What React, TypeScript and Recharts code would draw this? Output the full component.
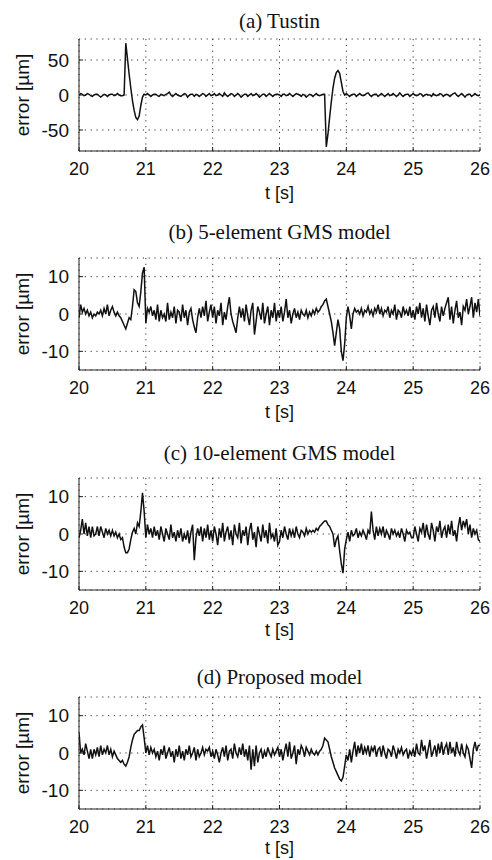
import { CartesianGrid, Label, Line, LineChart, XAxis, YAxis } from "recharts";

// sampling grid of the recorded error signals
const T_START = 20;
const T_STEP = 0.025;
const X_TICKS = [20, 21, 22, 23, 24, 25, 26];

// (a) Tustin, error in µm, one value per 25 ms from 20 s to 26 s
const tustinErr = [
  0, 2, 1, -1, 0, 2, 1, -1, -2, 0, 1, 1, -1, -3, -1, 1, 0, -2, 0, 1,
  1, -1, 0, 2, 0, -1, -1, 0, 74, 52, 30, 10, -8, -22, -32, -35, -30, -15, -3, 1,
  0, 2, 0, -2, 0, 1, 1, -1, -2, 1, 0, -1, 1, 2, 4, 0, -2, 0, 2, 0,
  -1, -2, 0, 2, 1, -3, 0, 1, 1, -2, 1, 0, -2, 0, 2, 1, -2, 0, 2, -1,
  0, 2, -1, 0, 2, 0, -2, 3, 0, -2, 0, 2, 1, -2, 0, 2, 0, -3, -1, 1,
  1, -2, 0, 2, -1, 0, 2, 0, -3, -1, 1, 1, -2, 0, 2, 0, -2, 0, 1, 1,
  0, -2, 1, 1, -1, 0, 2, 0, -2, 0, 2, 1, 0, -2, 1, 0, -3, -1, 1, 0,
  -2, 0, 2, 0, -1, 0, 1, 1, -74, -56, -32, -10, 10, 24, 32, 35, 31, 18, 5, 0,
  2, 0, -2, 0, 1, 1, -2, 0, 2, 0, -1, 0, 2, 3, 0, -2, 0, 1, 1, -2,
  0, 2, 0, -2, 0, 2, -1, 0, 2, 0, -2, 0, 3, 0, -2, 0, 1, 1, -2, 0,
  2, 0, -1, 0, 2, 1, -2, 0, 1, 0, 0, -2, 2, 0, -1, 0, 2, 1, -2, 0,
  1, 0, -2, 0, 2, 3, 0, -2, 0, 2, 0, -3, 0, 1, 1, -2, 0, 2, 0, -1,
  0,
];

// (b) 5-element GMS model
const gms5Err = [
  -1, 2.5, 0.5, 1.5, 0, 1, -0.5, 0.5, -1, 0, -0.5, 0.5, 0, 1, -0.5, 1.5, 0, 2.5, -0.5, 1,
  2, 0.5, -0.5, 0.5, -0.5, -1, -2, -3, -4, -2.5, -1, -1.5, 2, 6.5, 6, 3, 2, 6, 11, 12.5,
  -2.5, 1.5, 0.5, 2, -0.5, 1, -1.5, 2.5, -2, 1, -1, 0, -2, 3, -1.5, 0.5, -1, 2, -2.5, 1,
  0.5, -2, 2.5, -1, 1, -3, 0.5, 1.5, -1.5, -3.5, -5, -1, 1.5, -1, 2, -0.5, 3.5, -2, 0.5, 2.5,
  -1, 2, -2.5, 1, -0.5, 3, -3, 0.5, -1.5, 2, 4.5, 0, -2, -3.5, -5, -1, 2, -1, 1.5, -2,
  2.5, -0.5, -3, 1, 3, -5.5, -2, 2, 0.5, -1.5, 3, -2.5, 0, 2, -3, 1, -1, 3, -2, 1,
  -1, 2, -2, 0.5, 4, -1, 1, -2.5, 0, 1.5, -1, 0.5, -1.5, 1, 0, -0.5, 1, -1, 0.5, -0.5,
  1, 0, 1.5, 0.5, 1, 2, 2.5, 3.5, 4, 2, 0, -2, -5, -8.5, -5, -1.5, -4, -10, -12.5, -8,
  -1, 2, -0.5, -4, 0, 1.5, 0.5, 1, 0, 1.5, -0.5, 1, 0.5, 2, 0, 1, -0.5, 1.5, 0.5, 2.5,
  0, 1.5, -0.5, 1, 0.5, 2, -1, 1, 0, 2.5, -1.5, 1, 0.5, -1, 2, 0, 1, -0.5, 2, -1,
  1, -1.5, 2, 0, 3, -1, 1.5, -2, 2.5, -0.5, -3, 1, 2, -1, 3, 0, -2, 2, -0.5, 1.5,
  3, 4.5, -1.5, 2, -2.5, 1, 3.5, -1, 0.5, -3, 2, 1, 4, 0, 2, 4.5, -1, 3, 0.5, 4,
  -0.5,
];

// (c) 10-element GMS model
const gms10Err = [
  -1, 1, 4, 0, 3, -0.5, 2, -1, 2, -0.5, 0, 2, -0.5, 2, 0.5, -1, 1.5, 0, 1, -0.5,
  1, -0.5, 0.5, -1, 0, -1.5, -1, -3.5, -5, -5, -4, -1.5, 0.5, 1.5, 0, 3, 2, 6, 11, 6,
  -1, 2.5, 0, 1.5, -1, 2, -0.5, 1, -1.5, 2, 0, -2, 1.5, 0, -1.5, 2.5, -1, 0.5, -2, 1,
  -1, 1.5, -2, 0, -1.5, 1, -2.5, 0.5, 2.5, -7, -1, 1.5, -0.5, 2, -2, 1.5, -1, 2.5, -1.5, 1,
  -2, 2, 0, -3, 1.5, -1, 3, -2, 0.5, 2, -1.5, 1, -3, 2.5, 0, -1, 3, -2.5, 1, -0.5,
  2, -3, 1, 3, -1.5, 0.5, -3.5, 2, 0, -2, 2.5, -1, 1, -2.5, 3, -1, 0, -2, 1.5, -3,
  -2, 1, -1, 2, 0, -1.5, 1.5, -0.5, 1, -1, 2, 0, -1, 1, 0.5, -0.5, 1.5, 0, 1, 0.5,
  1, 0.5, 1.5, 1, 2, 2.5, 3, 3.5, 3.5, 2.5, 2, 1, 0, -3.5, -1.5, -0.5, -4.5, -8, -10.5, -4,
  -1.5, 0.5, -2, 1, -0.5, 0, 1.5, -1, 0.5, -0.5, 1, 0, -1.5, 1, 0, 6, 1, -1.5, 2, -0.5,
  1.5, 0, 2, -1, 1, 0, -1.5, 1.5, 0, 1, -0.5, 0.5, -1, 1.5, 0, -2, 1, 0, 0.5, -1,
  -1, 2, 0, -2, 1.5, 0.5, 3, -1, 2.5, 0, -1.5, 3, 1, -2, 2, 0.5, 3.5, -1, 1, 2,
  -1, 2.5, 0, 3.5, -0.5, 1, -2, 2, 4.5, 1, 3.5, 2, 4, 0, 2.5, -1, 1.5, 0, 1, -1.5,
  -2,
];

// (d) Proposed model
const proposedErr = [
  5.5, 0, 1, -0.5, 2.5, 0.5, -1.5, 1, -1.5, 1, -0.5, 1.5, -1, 2, -0.5, 1, 0, 2, -0.5, 1,
  -1, 0.5, -0.5, -1.5, -2, -2.5, -2, -3, -3.5, -2.5, -1, 1.5, 3.5, 5, 5.5, 6, 6, 7, 7.5, 4,
  0, 2, -0.5, 1.5, 0, 1, -1, 0.5, -2, 1, -0.5, 2, -1.5, 0, 1.5, -1, 0.5, -2.5, 1, -1,
  2, -1.5, 0.5, -2, 1, -0.5, 2, -1, 0, 1.5, -2, 1, -1, 0, 1.5, -0.5, 1, 0.5, 1.5, -1,
  0.5, -1.5, 1, -0.5, -2.5, 0, 1.5, -1, 2, -2, 0.5, 1, -1.5, 2.5, 0, -1, 1.5, -0.5, 2.5, -1,
  1, -2, 2, -4.5, 1, -3.5, 2, -2.5, 0, 1, -1.5, 0.5, -1, 1.5, 0, -1, 1, -0.5, 0.5, 1.5,
  -1, 1, -2, 0.5, 2.5, -1, 3, -1.5, 0, 2, -3, 1, -0.5, 2, 1, -1, 1.5, 0.5, -0.5, 1,
  0, -0.5, 0.5, -0.5, 0.5, 1, 2, 4, 3.5, 3, 1, -1, -2.5, -4, -5, -6, -7, -7.5, -6.5, -3.5,
  -0.5, -2, 1, -2.5, 0.5, 3, -1, 2, 0, 2.5, -0.5, 1.5, 0, 2, -1, 1.5, 0.5, 2, -1, 1,
  1.5, -1, 2, 0, -1.5, 1, 0.5, -1, 2, 0.5, -1.5, 1, 0, 1.5, -0.5, 0.5, 1, -1.5, 0.5, -0.5,
  1, -1, 2.5, 0, -0.5, 3.5, 0.5, 2, -1.5, 1, 3.5, -1, 0.5, 2, -1, 2.5, 0, 3, -0.5, 1.5,
  2.5, -0.5, 3, 0, 1.5, -1, 3, 0.5, -0.5, 2.5, 0, -1, 2, 1, -1.5, -4, 1, 3, 0.5, 2,
  2,
];

const SANS = '"Liberation Sans", Arial, Helvetica, sans-serif';
const SERIF = '"Liberation Serif", "Times New Roman", serif';
const INK = "#111";
const TICK_FONT = 18;

const CHART_W = 492;
const PLOT_LEFT = 79;
const PLOT_RIGHT_PAD = 12;
const PLOT_W = CHART_W - PLOT_LEFT - PLOT_RIGHT_PAD;
const PLOT_H = 112;
const PAD_TOP = 8;
const AXIS_H = 60;
const CHART_H = PAD_TOP + PLOT_H + AXIS_H;

const toRows = (values: number[]) =>
  values.map((v, i) => ({ t: +(T_START + i * T_STEP).toFixed(3), v }));

interface PanelProps {
  title: string;
  values: number[];
  yDomain: [number, number];
  yTicks: number[];
  plotTop: number;
  titleY: number;
  xTitleGap: number;
}

function ErrorPanel({ title, values, yDomain, yTicks, plotTop, titleY, xTitleGap }: PanelProps) {
  const rows = toRows(values);
  const axisStroke = { stroke: "#222", strokeWidth: 1 };
  return (
    <>
      <div
        style={{
          position: "absolute",
          left: PLOT_LEFT,
          width: PLOT_W,
          top: titleY - 13,
          height: 26,
          lineHeight: "26px",
          textAlign: "center",
          fontFamily: SERIF,
          fontSize: 21,
          color: INK,
          whiteSpace: "nowrap",
        }}
      >
        {title}
      </div>
      <div style={{ position: "absolute", left: 0, top: plotTop - PAD_TOP }}>
        <LineChart
          width={CHART_W}
          height={CHART_H}
          data={rows}
          margin={{ top: PAD_TOP, right: PLOT_RIGHT_PAD, bottom: 0, left: 0 }}
        >
          <CartesianGrid stroke="#333" strokeDasharray="1.2 4.6" />
          <XAxis
            dataKey="t"
            type="number"
            domain={[20, 26]}
            ticks={X_TICKS}
            interval={0}
            allowDataOverflow
            height={AXIS_H}
            tickSize={-4}
            tickMargin={15}
            axisLine={axisStroke}
            tickLine={axisStroke}
            tick={{ fontSize: TICK_FONT, fill: INK, fontFamily: SANS }}
          >
            <Label
              content={() => (
                <text
                  x={PLOT_LEFT + PLOT_W / 2}
                  y={PAD_TOP + PLOT_H + xTitleGap}
                  textAnchor="middle"
                  dominantBaseline="central"
                  fontFamily={SANS}
                  fontSize={TICK_FONT}
                  fill={INK}
                >
                  t [s]
                </text>
              )}
            />
          </XAxis>
          <XAxis
            xAxisId="top"
            orientation="top"
            dataKey="t"
            type="number"
            domain={[20, 26]}
            ticks={X_TICKS}
            height={0}
            tickSize={-4}
            tick={false}
            axisLine={axisStroke}
            tickLine={axisStroke}
          />
          <YAxis
            type="number"
            domain={yDomain}
            ticks={yTicks}
            interval={0}
            allowDataOverflow
            width={PLOT_LEFT}
            tickSize={-4}
            tickMargin={14}
            axisLine={axisStroke}
            tickLine={axisStroke}
            tick={{ fontSize: 19, fill: INK, fontFamily: SANS }}
          >
            <Label
              content={() => (
                <text
                  x={22.5}
                  y={PAD_TOP + PLOT_H / 2}
                  textAnchor="middle"
                  dominantBaseline="central"
                  transform={`rotate(-90 22.5 ${PAD_TOP + PLOT_H / 2})`}
                  fontFamily={SANS}
                  fontSize={19}
                  fill={INK}
                >
                  error [µm]
                </text>
              )}
            />
          </YAxis>
          <YAxis
            yAxisId="right"
            orientation="right"
            type="number"
            domain={yDomain}
            ticks={yTicks}
            width={0}
            tickSize={-4}
            tick={false}
            axisLine={axisStroke}
            tickLine={axisStroke}
          />
          <Line
            dataKey="v"
            type="linear"
            stroke={INK}
            strokeWidth={1.5}
            dot={false}
            isAnimationActive={false}
          />
        </LineChart>
      </div>
    </>
  );
}

export default function App() {
  return (
    <div
      style={{
        position: "absolute",
        left: 0,
        top: 0,
        width: 492,
        height: 860,
        background: "#fff",
        overflow: "hidden",
      }}
    >
      <ErrorPanel
        title="(a) Tustin"
        values={tustinErr}
        yDomain={[-80, 80]}
        yTicks={[-50, 0, 50]}
        plotTop={39}
        titleY={21}
        xTitleGap={42}
      />
      <ErrorPanel
        title="(b) 5-element GMS model"
        values={gms5Err}
        yDomain={[-15, 15]}
        yTicks={[-10, 0, 10]}
        plotTop={258}
        titleY={232}
        xTitleGap={42}
      />
      <ErrorPanel
        title="(c) 10-element GMS model"
        values={gms10Err}
        yDomain={[-15, 15]}
        yTicks={[-10, 0, 10]}
        plotTop={478}
        titleY={453}
        xTitleGap={40}
      />
      <ErrorPanel
        title="(d) Proposed model"
        values={proposedErr}
        yDomain={[-15, 15]}
        yTicks={[-10, 0, 10]}
        plotTop={697}
        titleY={677}
        xTitleGap={39}
      />
    </div>
  );
}
